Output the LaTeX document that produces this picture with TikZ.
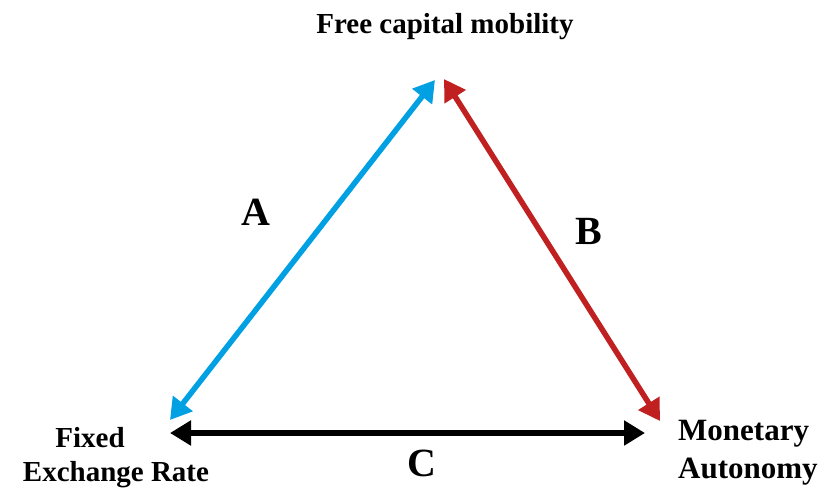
\documentclass[tikz,border=0pt]{standalone}
\usepackage{fontspec}
\setmainfont{Liberation Serif}
\usetikzlibrary{arrows.meta}
\definecolor{legblue}{RGB}{0,160,227}
\definecolor{legred}{RGB}{192,32,32}
\tikzset{
  corner/.style={font=\bfseries\fontsize{29}{36}\selectfont, inner sep=0pt, align=center},
  side/.style={font=\bfseries\fontsize{40}{44}\selectfont, inner sep=0pt},
  leg/.style={line width=5.5pt, {Triangle[length=21pt,width=24pt]}-{Triangle[length=21pt,width=24pt]}}
}
\begin{document}
\begin{tikzpicture}[x=1pt,y=-1pt]
\useasboundingbox (0,0) rectangle (825,491);
% corners of the triangle
\node[corner] (mob) at (445,27) {Free capital mobility};
\node[corner] (fix) at (90,438) {Fixed};
\node[corner] (exr) at (116,475) {Exchange Rate};
\node[corner, anchor=west, font=\bfseries\fontsize{31}{36}\selectfont] (mon) at (678,434) {Monetary};
\node[corner, anchor=west, font=\bfseries\fontsize{31}{36}\selectfont] (aut) at (678,472) {Autonomy};
\coordinate (ta) at (435,80);
\coordinate (tb) at (444,79);
\coordinate (la) at (170,420);
\coordinate (lc) at (170,433);
\coordinate (rb) at (660,421);
\coordinate (rc) at (645,433);
% the three legs
\draw[leg, legblue] (la) -- (ta);
\draw[leg, legred] (tb) -- (rb);
\draw[leg, black] (lc) -- (rc);
\node[side] (a) at (256,212) {A};
\node[side] (b) at (589,231) {B};
\node[side] (c) at (422,463) {C};
\end{tikzpicture}
\end{document}
